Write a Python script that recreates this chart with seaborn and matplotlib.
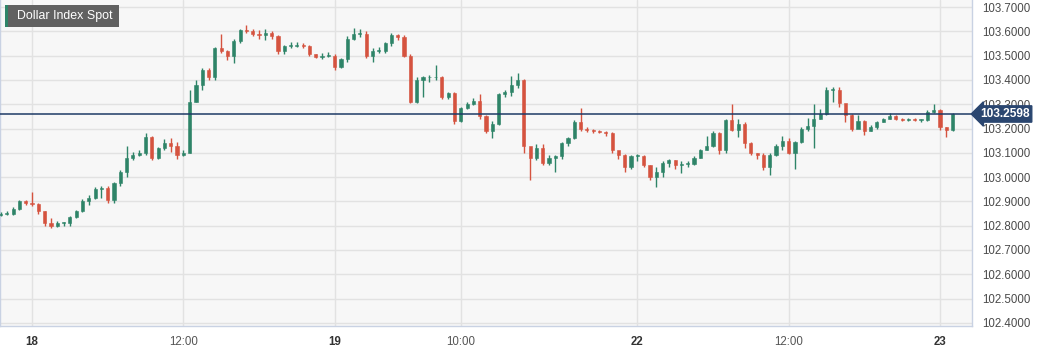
import numpy as np
import pandas as pd
import seaborn as sns
import matplotlib
matplotlib.use("Agg")
import matplotlib.pyplot as plt
from matplotlib.patches import Rectangle

# ---------------- data (30-minute candles, DXY spot) ----------------
title = "Dollar Index Spot"
first_open = 102.845
close = [
    102.850, 102.850, 102.870, 102.900, 102.895, 102.890, 102.860, 102.810, 102.800, 102.810,
    102.810, 102.835, 102.860, 102.900, 102.915, 102.950, 102.955, 102.905, 102.975, 103.020,
    103.080, 103.090, 103.100, 103.165, 103.080, 103.120, 103.140, 103.130, 103.090, 103.100,
    103.310, 103.380, 103.440, 103.410, 103.530, 103.520, 103.500, 103.560, 103.605, 103.600,
    103.590, 103.585, 103.595, 103.580, 103.520, 103.540, 103.540, 103.545, 103.540, 103.505,
    103.495, 103.500, 103.500, 103.455, 103.485, 103.570, 103.590, 103.590, 103.500, 103.520,
    103.520, 103.550, 103.585, 103.575, 103.500, 103.310, 103.400, 103.410, 103.410, 103.410,
    103.330, 103.345, 103.230, 103.285, 103.300, 103.315, 103.250, 103.190, 103.220, 103.340,
    103.350, 103.380, 103.400, 103.130, 103.080, 103.120, 103.060, 103.080, 103.085, 103.140,
    103.160, 103.225, 103.200, 103.195, 103.190, 103.185, 103.180, 103.110, 103.090, 103.040,
    103.085, 103.085, 103.050, 103.000, 103.020, 103.060, 103.070, 103.050, 103.055, 103.055,
    103.080, 103.110, 103.130, 103.180, 103.110, 103.235, 103.195, 103.220, 103.140, 103.100,
    103.090, 103.040, 103.090, 103.130, 103.150, 103.100, 103.145, 103.200, 103.210, 103.240,
    103.260, 103.360, 103.360, 103.305, 103.255, 103.200, 103.230, 103.190, 103.205, 103.225,
    103.240, 103.250, 103.240, 103.235, 103.240, 103.235, 103.235, 103.270, 103.275, 103.205,
    103.195, 103.2598,
]
high = [
    102.855, 102.860, 102.875, 102.905, 102.905, 102.940, 102.895, 102.860, 102.830, 102.820,
    102.815, 102.840, 102.865, 102.910, 102.925, 102.960, 102.965, 102.965, 102.980, 103.030,
    103.130, 103.105, 103.110, 103.180, 103.170, 103.125, 103.155, 103.160, 103.145, 103.110,
    103.360, 103.400, 103.450, 103.450, 103.535, 103.590, 103.525, 103.570, 103.610, 103.625,
    103.610, 103.605, 103.610, 103.600, 103.585, 103.545, 103.555, 103.555, 103.550, 103.545,
    103.505, 103.510, 103.515, 103.505, 103.490, 103.580, 103.615, 103.610, 103.600, 103.530,
    103.535, 103.555, 103.595, 103.590, 103.585, 103.505, 103.410, 103.415, 103.420, 103.460,
    103.415, 103.350, 103.350, 103.290, 103.310, 103.325, 103.340, 103.255, 103.230, 103.345,
    103.360, 103.415, 103.430, 103.405, 103.120, 103.135, 103.135, 103.090, 103.090, 103.145,
    103.165, 103.235, 103.285, 103.205, 103.200, 103.195, 103.190, 103.185, 103.100, 103.095,
    103.090, 103.095, 103.090, 103.050, 103.040, 103.065, 103.075, 103.070, 103.065, 103.065,
    103.085, 103.115, 103.170, 103.190, 103.185, 103.240, 103.300, 103.240, 103.225, 103.145,
    103.100, 103.100, 103.100, 103.135, 103.170, 103.160, 103.150, 103.205, 103.245, 103.300,
    103.280, 103.370, 103.370, 103.370, 103.275, 103.260, 103.255, 103.235, 103.215, 103.230,
    103.245, 103.265, 103.255, 103.245, 103.245, 103.245, 103.240, 103.275, 103.300, 103.280,
    103.205, 103.265,
]
low = [
    102.840, 102.845, 102.845, 102.865, 102.885, 102.880, 102.850, 102.800, 102.790, 102.795,
    102.800, 102.800, 102.830, 102.855, 102.885, 102.910, 102.915, 102.895, 102.895, 102.965,
    103.000, 103.070, 103.085, 103.090, 103.070, 103.075, 103.110, 103.105, 103.075, 103.085,
    103.100, 103.310, 103.360, 103.400, 103.400, 103.510, 103.480, 103.470, 103.550, 103.595,
    103.580, 103.570, 103.565, 103.570, 103.505, 103.505, 103.530, 103.535, 103.530, 103.500,
    103.490, 103.485, 103.495, 103.440, 103.450, 103.475, 103.565, 103.575, 103.490, 103.475,
    103.510, 103.510, 103.540, 103.565, 103.495, 103.305, 103.305, 103.330, 103.390, 103.400,
    103.320, 103.320, 103.220, 103.225, 103.280, 103.295, 103.240, 103.180, 103.160, 103.215,
    103.330, 103.335, 103.365, 103.100, 102.990, 103.070, 103.050, 103.050, 103.020, 103.075,
    103.130, 103.155, 103.190, 103.185, 103.180, 103.180, 103.170, 103.100, 103.075, 103.020,
    103.035, 103.065, 103.040, 102.990, 102.960, 103.000, 103.040, 103.035, 103.015, 103.040,
    103.050, 103.080, 103.110, 103.125, 103.095, 103.100, 103.190, 103.165, 103.120, 103.090,
    103.075, 103.030, 103.010, 103.085, 103.110, 103.095, 103.035, 103.140, 103.190, 103.120,
    103.240, 103.255, 103.310, 103.290, 103.225, 103.190, 103.210, 103.175, 103.190, 103.200,
    103.225, 103.240, 103.235, 103.230, 103.230, 103.230, 103.225, 103.230, 103.265, 103.195,
    103.165, 103.190,
]
start_hour = -2.5          # first candle: 17 Apr 21:30 (trading-time hours from 18 Apr 00:00)
bar_hours = 0.5
tick_hours = [0, 12, 24, 34, 48, 60, 72]
tick_labels = ["18", "12:00", "19", "10:00", "22", "12:00", "23"]
y_ticks = [102.4, 102.5, 102.6, 102.7, 102.8, 102.9, 103.0, 103.1, 103.2, 103.3, 103.4, 103.5, 103.6, 103.7]
last_price = 103.2598

# ---------------- frame ----------------
opens = [first_open] + close[:-1]
df = pd.DataFrame({"open": opens, "close": close, "high": high, "low": low})
df["t"] = start_hour + bar_hours * np.arange(len(df))
df["up"] = df["close"] >= df["open"]

GREEN = "#2e8468"
RED = "#d5533f"

sns.set_theme(style="whitegrid")
plt.rcParams["font.family"] = ["Liberation Sans", "DejaVu Sans"]

fig = plt.figure(figsize=(10.48, 3.52), dpi=100)
fig.patch.set_facecolor("white")
W, H = 1048, 352
ax = fig.add_axes([0 / W, (H - 326) / H, 972 / W, 326 / H])
ax.set_facecolor("#f7f7f7")

colors = np.where(df["up"], GREEN, RED)
ax.vlines(df["t"], df["low"], df["high"], colors=colors, linewidth=1.0, zorder=3)
body_bottom = np.minimum(df["open"], df["close"])
body_h = np.maximum(np.abs(df["close"] - df["open"]), 0.004)
ax.bar(df["t"], body_h, bottom=body_bottom, width=bar_hours * 0.5, color=colors,
       edgecolor=colors, linewidth=0.4, zorder=4)

# last price line
ax.axhline(last_price, color="#1e3a66", linewidth=1.1, zorder=5)

ax.set_xlim(-2.54, 74.54)
ax.set_ylim(102.387, 103.729)

ax.set_yticks(y_ticks)
ax.set_yticklabels([f"{v:.4f}" for v in y_ticks])
ax.yaxis.tick_right()
ax.tick_params(axis="y", length=0, pad=7, labelsize=8.3, labelcolor="#4a4a4a")
ax.set_xticks(tick_hours)
ax.set_xticklabels(tick_labels)
ax.tick_params(axis="x", length=0, pad=7, labelsize=8.3, labelcolor="#555555")
for lbl in ax.get_xticklabels():
    if ":" not in lbl.get_text():
        lbl.set_fontweight("bold")
        lbl.set_color("#333333")

ax.grid(True, color="#e2e2e2", linewidth=1.0)
ax.set_axisbelow(True)
ax.spines["top"].set_visible(False)
for side in ["left", "bottom", "right"]:
    ax.spines[side].set_color("#c9d2e3")
    ax.spines[side].set_linewidth(1.0)

# title badge
fig.patches.append(Rectangle((5 / W, 1 - 27 / H), 114 / W, 22 / H, transform=fig.transFigure,
                             facecolor="#616161", edgecolor="none", zorder=10))
fig.patches.append(Rectangle((5 / W, 1 - 27 / H), 3 / W, 22 / H, transform=fig.transFigure,
                             facecolor="#2e8468", edgecolor="none", zorder=11))
fig.text(17 / W, 1 - 16 / H, title, color="white", fontsize=8.9, va="center", ha="left", zorder=12)

# last price tag
ax.text(1.0 + 8 / 972, last_price, f"{last_price:.4f}", transform=ax.get_yaxis_transform(),
        color="white", fontsize=8.6, fontweight="bold", va="center", ha="left", clip_on=False,
        zorder=20,
        bbox=dict(boxstyle="larrow,pad=0.18", facecolor="#2a4670", edgecolor="#2a4670"))

fig.savefig("out.png", dpi=100, facecolor="white")
